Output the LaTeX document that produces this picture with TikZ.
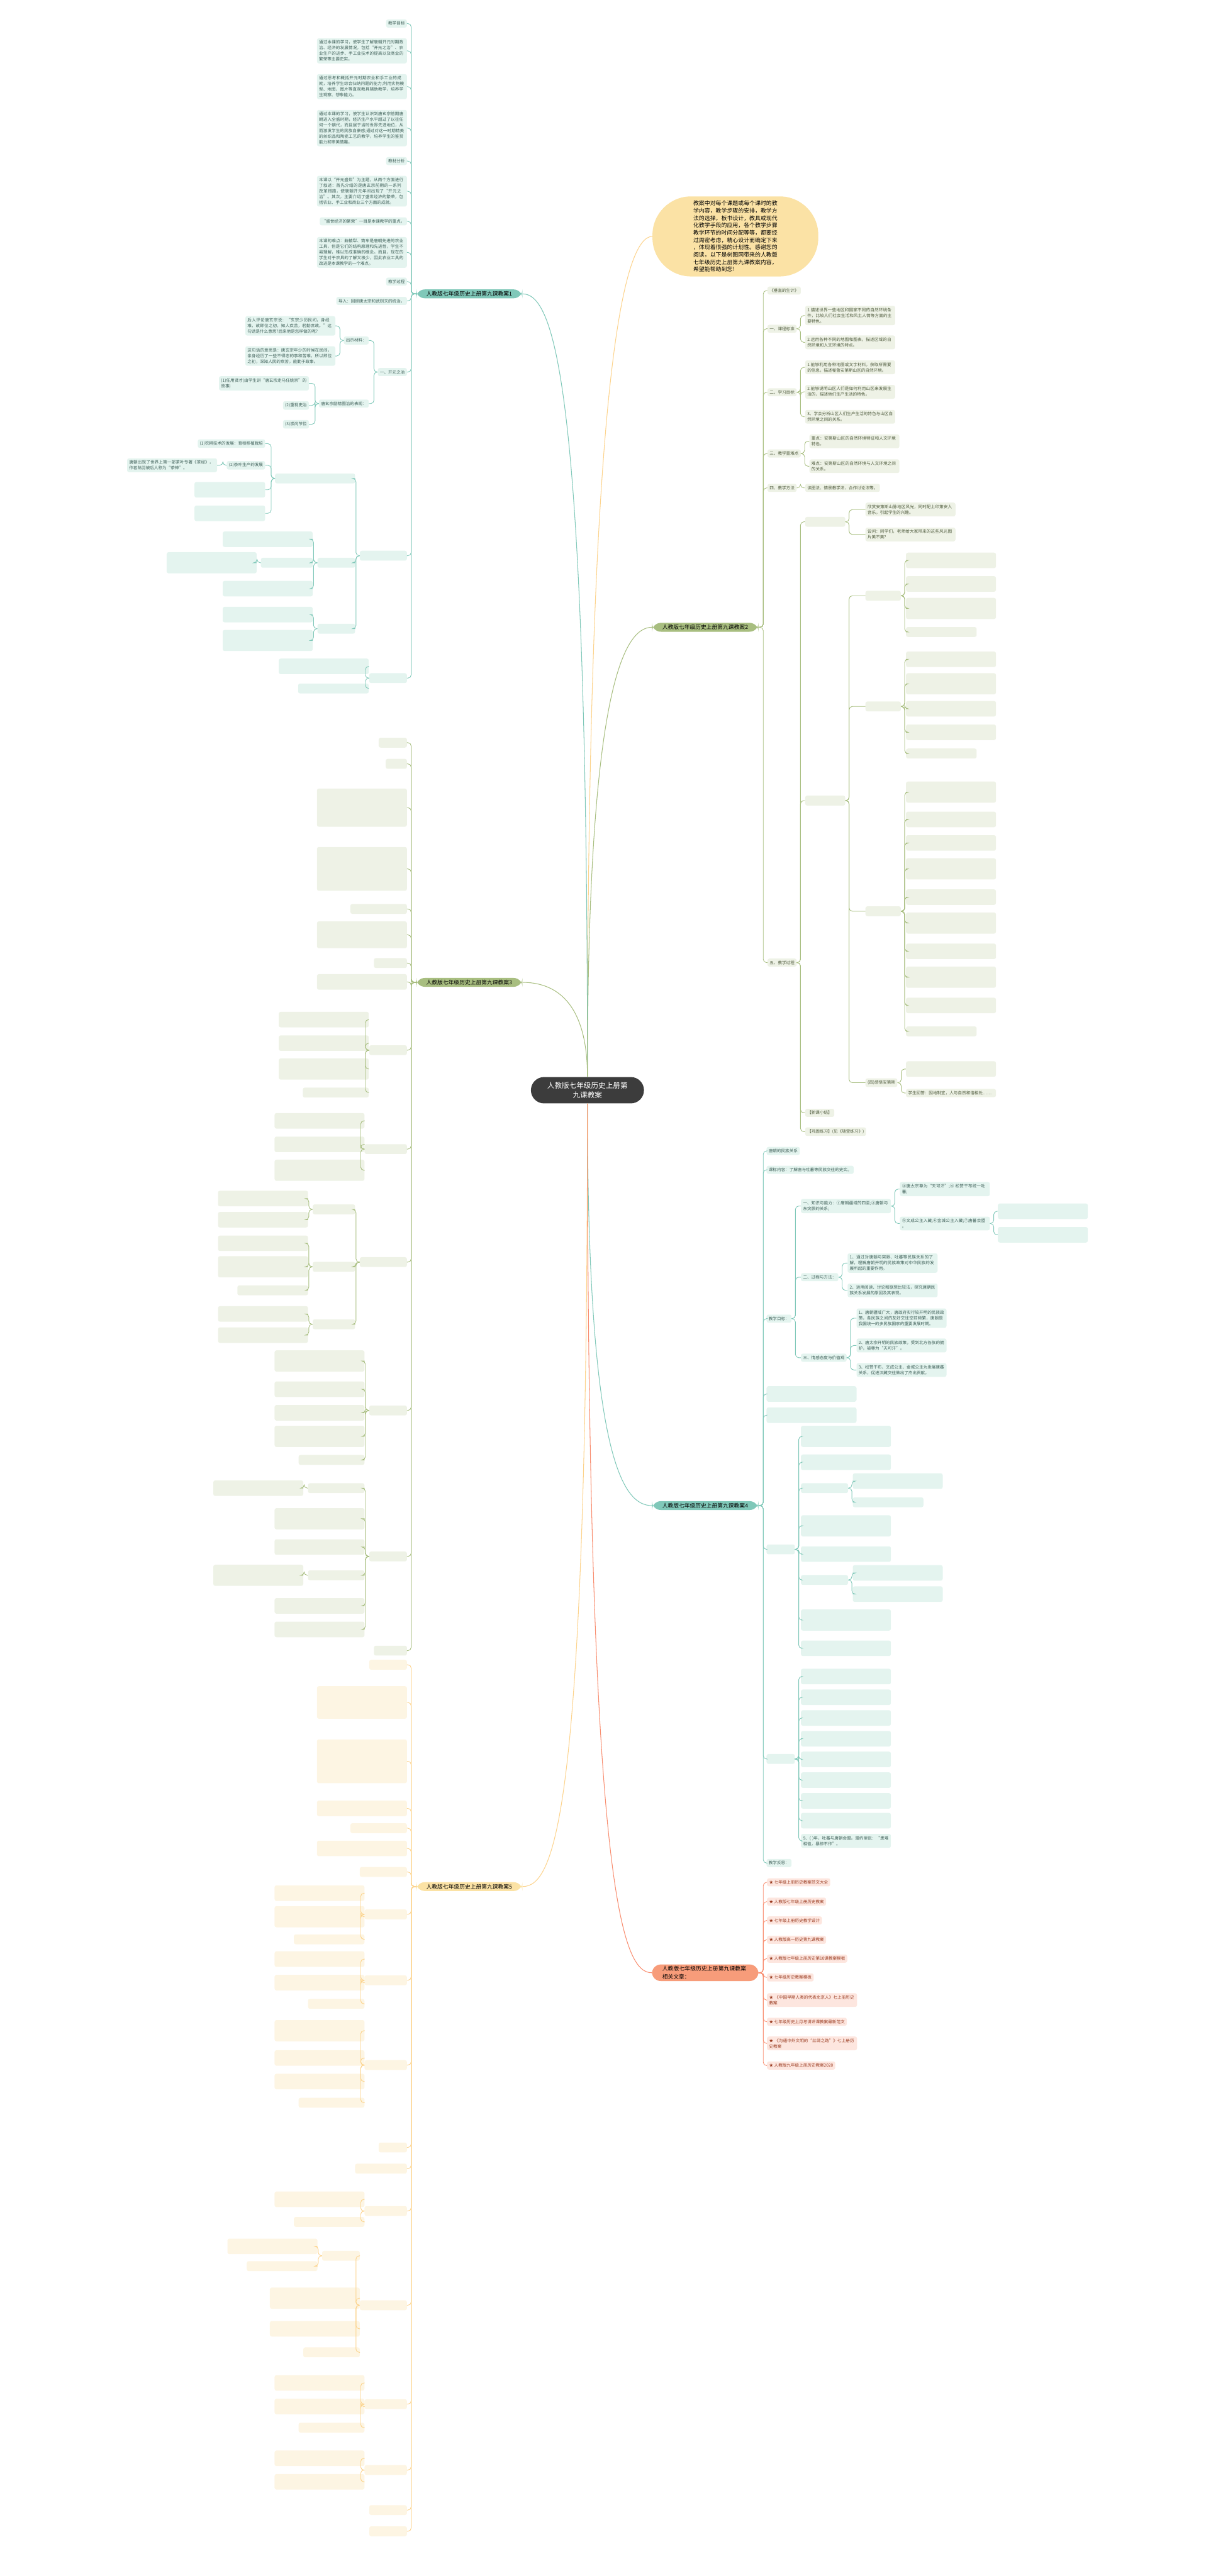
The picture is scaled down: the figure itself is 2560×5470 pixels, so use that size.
\documentclass[tikz,border=0pt]{standalone}
\usepackage{fontspec}
\setmainfont{Noto Sans CJK SC}
\XeTeXlinebreaklocale "zh"
\XeTeXlinebreakskip=0pt plus 1pt
\definecolor{ctrfill}{HTML}{3C3C3C}
\definecolor{tealM}{HTML}{80C8B9}
\definecolor{tealL}{HTML}{E4F4EF}
\definecolor{tealT}{HTML}{3E5F58}
\definecolor{greenM}{HTML}{A8BE80}
\definecolor{greenL}{HTML}{EEF2E6}
\definecolor{greenT}{HTML}{4E5A3C}
\definecolor{yelM}{HTML}{FBE2A5}
\definecolor{yelL}{HTML}{FDF5E3}
\definecolor{yelT}{HTML}{5E4E26}
\definecolor{oraM}{HTML}{F79C7A}
\definecolor{oraL}{HTML}{FDE6DF}
\definecolor{oraT}{HTML}{9A3B20}
\begin{document}
\begin{tikzpicture}[x=1pt,y=-1pt,
  ctrnode/.style={fill=ctrfill,text=white,rounded corners=28,minimum width=240,minimum height=56,
    align=center,font=\fontsize{15.5}{20}\selectfont},
  note/.style={fill=yelM,rounded corners=82,minimum width=352,minimum height=170,align=left,
    font=\fontsize{11.9}{15.6}\selectfont},
  topic/.style={rounded corners=19,text width=182,inner xsep=22,inner ysep=4,align=left,
    font=\fontsize{11.7}{16.5}\selectfont},
  leaf/.style={rounded corners=4,inner sep=4.5,align=left,font=\fontsize{8.8}{12}\selectfont},
  wide/.style={text width=182},
  lT/.style={leaf,fill=tealL,text=tealT},
  lG/.style={leaf,fill=greenL,text=greenT},
  lY/.style={leaf,fill=yelL,text=yelT},
  lO/.style={leaf,fill=oraL,text=oraT},
  mainT/.style={draw=tealM,line width=1.4},
  mainG/.style={draw=greenM,line width=1.4},
  mainY/.style={draw=yelM!85!orange,line width=1.4},
  mainO/.style={draw=oraM!90!red,line width=1.4},
  cT/.style={draw=tealM,line width=1.2,rounded corners=7},
  cG/.style={draw=greenM,line width=1.2,rounded corners=7},
  cY/.style={draw=yelM!85!orange,line width=1.2,rounded corners=7},
  cO/.style={draw=oraM!90!red,line width=1.2,rounded corners=7}]
\useasboundingbox (0,0) rectangle (2560,5470);

% centre and main topics
\node[ctrnode] (ctr) at (1247,2315) {人教版七年级历史上册第\\九课教案};
\node[note] (intro) at (1561,502) {教案中对每个课题或每个课时的教\\学内容，教学步骤的安排，教学方\\法的选择，板书设计，教具或现代\\化教学手段的应用，各个教学步骤\\教学环节的时间分配等等，都要经\\过周密考虑，精心设计而确定下来\\，体现着很强的计划性。感谢您的\\阅读，以下是树图网带来的人教版\\七年级历史上册第九课教案内容，\\希望能帮助到您！};
\node[topic,fill=tealM] (b1) at (996,624) {人教版七年级历史上册第九课教案1};
\node[topic,fill=greenM] (b2) at (1497,1332) {人教版七年级历史上册第九课教案2};
\node[topic,fill=greenM] (b3) at (996,2086) {人教版七年级历史上册第九课教案3};
\node[topic,fill=tealM] (b4) at (1497,3197) {人教版七年级历史上册第九课教案4};
\node[topic,fill=yelM] (b5) at (996,4006) {人教版七年级历史上册第九课教案5};
\node[topic,fill=oraM] (b6) at (1497,4189) {人教版七年级历史上册第九课教案相关文章：};

\draw[mainY] (ctr.north) .. controls +(0,-1500) and +(-60,0) .. (intro.west);
\draw[mainT] (ctr.north) .. controls +(0,-1450) and +(70,0) .. (b1.east);
\draw[mainG] (ctr.north) .. controls +(0,-820) and +(-60,0) .. (b2.west);
\draw[mainG] (ctr.north) .. controls +(0,-170) and +(60,0) .. (b3.east);
\draw[mainT] (ctr.south) .. controls +(0,760) and +(-60,0) .. (b4.west);
\draw[mainY] (ctr.south) .. controls +(0,1500) and +(70,0) .. (b5.east);
\draw[mainO] (ctr.south) .. controls +(0,1700) and +(-60,0) .. (b6.west);

% topic 1
\node[lT,anchor=east] (k1) at (864,50) {教学目标};
\node[lT,anchor=east,wide] (k2) at (864,108) {通过本课的学习，使学生了解唐朝开元时期政治、经济的发展情况，包括“开元之治”、农业生产的进步、手工业技术的提高以及商业的繁荣等主要史实。};
\node[lT,anchor=east,wide] (k3) at (864,184) {通过思考和概括开元时期农业和手工业的成就，培养学生综合归纳问题的能力;利用实物模型、地图、图片等直观教具辅助教学，培养学生观察、想象能力。};
\node[lT,anchor=east,wide] (k4) at (864,272) {通过本课的学习，使学生认识到唐玄宗前期唐朝进入全盛时期，经济生产水平超过了以往任何一个朝代，而且居于当时世界先进地位，从而激发学生的民族自豪感;通过对这一时期精美的丝织品和陶瓷工艺的教学，培养学生的鉴赏能力和审美情趣。};
\node[lT,anchor=east] (k5) at (864,342) {教材分析};
\node[lT,anchor=east,wide] (k6) at (864,406) {本课以“开元盛世”为主题，从两个方面进行了叙述：首先介绍的是唐玄宗前期的一系列改革措施，使唐朝开元年间出现了“开元之治”。其次，主要介绍了盛世经济的繁荣，包括农业、手工业和商业三个方面的成就。};
\node[lT,anchor=east] (k7) at (864,470) {“盛世经济的繁荣”一目是本课教学的重点。};
\node[lT,anchor=east,wide] (k8) at (864,536) {本课的难点：曲辕犁、筒车是唐朝先进的农业工具，但是它们的结构原理和先进性，学生不易理解，难以形成准确的概念。而且，现在的学生对于农具的了解又极少，因此农业工具的改进是本课教学的一个难点。};
\node[lT,anchor=east] (k9) at (864,598) {教学过程};
\node[lT,anchor=east] (k10) at (864,639) {导入：回顾唐太宗和武则天的统治。};
\node[lT,anchor=east] (k11) at (864,790) {一、开元之治};
\node[lT,anchor=east] (k111) at (783,723) {出示材料：};
\node[lT,anchor=east,wide] (k1111) at (712,692) {后人评论唐玄宗说：“玄宗少历民间，身经难，故即位之初，知人疾苦，躬勤庶政。”这句话是什么意思?后来他是怎样做的呢?};
\node[lT,anchor=east,wide] (k1112) at (712,756) {这句话的意思是：唐玄宗年少的时候在民间，亲身经历了一些不得志的事和苦难，所以即位之初，深知人民的疾苦，能勤于政事。};
\node[lT,anchor=east] (k112) at (783,857) {唐玄宗励精图治的表现：};
\node[lT,anchor=east,wide] (k1121) at (656,814) {(1)任用贤才(由学生讲“唐玄宗走马任姚崇”的故事)};
\node[lT,anchor=east] (k1122) at (656,861) {(2)重视吏治};
\node[lT,anchor=east] (k1123) at (656,901) {(3)崇尚节俭};
\node[lT,anchor=east] (kA1) at (563,942) {(1)农耕技术的发展：育秧移植栽培};
\node[lT,anchor=east] (kA2) at (563,988) {(2)茶叶生产的发展};
\node[lT,anchor=east,wide] (kA21) at (461,988) {唐朝出现了世界上第一部茶叶专著《茶经》，作者陆羽被后人称为“茶神”。};
% boxes whose text is too small to read
\foreach \n/\x/\y/\w/\h in {A1/864/1180/100/21,A2/864/1440/80/21,A11/754/1016/170/21,A12/754/1195/80/21,
  A13/754/1335/80/21,A113/563/1040/150/33,A114/563/1090/150/33,A121/664/1145/191/33,A122/664/1195/110/21,
  A1221/545/1195/191/45,A123/664/1250/191/33,A131/664/1305/191/33,A132/664/1360/191/45,A21/783/1415/191/33,
  A22/783/1462/150/21}
  \node[lT,anchor=east,minimum width=\w,minimum height=\h] (\n) at (\x,\y) {};

\foreach \c in {k1,k2,k3,k4,k5,k6,k7,k8,k9,k10,k11,A1,A2}
  \draw[cT] (b1.west) -- ++(-10,0) |- (\c.east);
\foreach \p/\c in {k11/k111,k11/k112,k111/k1111,k111/k1112,k112/k1121,k112/k1122,k112/k1123,
  A1/A11,A1/A12,A1/A13,A11/kA1,A11/kA2,A11/A113,A11/A114,kA2/kA21,A12/A121,A12/A122,A12/A123,
  A122/A1221,A13/A131,A13/A132,A2/A21,A2/A22}
  \draw[cT] (\p.west) -- ++(-8,0) |- (\c.east);

% topic 2
\node[lG,anchor=west] (g1) at (1629,617) {《垂直的生计》};
\node[lG,anchor=west] (g2) at (1629,698) {一、课程标准};
\node[lG,anchor=west,wide] (g21) at (1709,670) {1.描述世界一些地区和国家不同的自然环境条件，比较人们社会生活和风土人情等方面的主要特色。};
\node[lG,anchor=west,wide] (g22) at (1709,727) {2.运用各种不同的地图和图表，描述区域的自然环境和人文环境的特点。};
\node[lG,anchor=west] (g3) at (1629,833) {二、学习目标};
\node[lG,anchor=west,wide] (g31) at (1709,780) {1.能够利用各种地图或文字材料，获取所需要的信息，描述秘鲁安第斯山区的自然环境。};
\node[lG,anchor=west,wide] (g32) at (1709,832) {2.能够说明山区人们是如何利用山区来发展生活的，描述他们生产生活的特色。};
\node[lG,anchor=west,wide] (g33) at (1709,885) {3、学会分析山区人们生产生活的特色与山区自然环境之间的关系。};
\node[lG,anchor=west] (g4) at (1629,963) {三、教学重难点};
\node[lG,anchor=west,wide] (g41) at (1718,937) {重点：安第斯山区的自然环境特征和人文环境特色。};
\node[lG,anchor=west,wide] (g42) at (1718,990) {难点：安第斯山区的自然环境与人文环境之间的关系。};
\node[lG,anchor=west] (g5) at (1629,1036) {四、教学方法};
\node[lG,anchor=west] (g51) at (1709,1036) {读图法、情景教学法、合作讨论法等。};
\node[lG,anchor=west] (g6) at (1629,2044) {五、教学过程};
\node[lG,anchor=west,wide] (g6a1) at (1837,1082) {欣赏安第斯山脉地区风光，同时配上印第安人音乐，引起学生的兴趣。};
\node[lG,anchor=west,wide] (g6a2) at (1837,1135) {设问：同学们，老师给大家带来的这些风光图片美不美?};
\node[lG,anchor=west] (g6s) at (1709,2363) {【新课小结】};
\node[lG,anchor=west] (g6p) at (1709,2403) {【巩固练习】(见《随堂练习》)};
\node[lG,anchor=west] (g64) at (1837,2299) {(四)感悟安第斯};
\node[lG,anchor=west,wide] (g641) at (1923,2321) {学生回答：因地制宜，人与自然和谐相处……};
\foreach \n/\x/\y/\w/\h in {g6a/1709/1108/85/21,g6b/1709/1700/85/21,g6b1/1837/1265/75/21,g6b2/1837/1500/75/21,
  g6b3/1837/1935/75/21,g640/1923/2270/191/33,
  D11/1923/1190/191/33,D12/1923/1240/191/33,D13/1923/1292/191/45,D14/1923/1342/150/21,
  D21/1923/1400/191/33,D22/1923/1452/191/45,D23/1923/1505/191/33,D24/1923/1555/191/33,D25/1923/1600/150/21,
  D31/1923/1682/191/45,D32/1923/1740/191/33,D33/1923/1790/191/33,D34/1923/1845/191/45,D35/1923/1905/191/33,
  D36/1923/1960/191/45,D37/1923/2020/191/33,D38/1923/2075/191/45,D39/1923/2135/191/33,D310/1923/2190/150/21}
  \node[lG,anchor=west,minimum width=\w,minimum height=\h] (\n) at (\x,\y) {};

\foreach \c in {g1,g2,g3,g4,g5,g6}
  \draw[cG] (b2.east) -- ++(10,0) |- (\c.west);
\foreach \p/\c in {g2/g21,g2/g22,g3/g31,g3/g32,g3/g33,g4/g41,g4/g42,g5/g51,g6/g6a,g6/g6b,g6/g6s,g6/g6p,
  g6a/g6a1,g6a/g6a2,g6b/g6b1,g6b/g6b2,g6b/g6b3,g6b/g64,g64/g640,g64/g641,
  g6b1/D11,g6b1/D12,g6b1/D13,g6b1/D14,g6b2/D21,g6b2/D22,g6b2/D23,g6b2/D24,g6b2/D25,
  g6b3/D31,g6b3/D32,g6b3/D33,g6b3/D34,g6b3/D35,g6b3/D36,g6b3/D37,g6b3/D38,g6b3/D39,g6b3/D310}
  \draw[cG] (\p.east) -- ++(8,0) |- (\c.west);

% topic 3
\foreach \n/\x/\y/\w/\h in {B1/864/1577/60/21,B2/864/1622/45/21,B3/864/1715/191/81,B4/864/1845/191/93,
  B5/864/1930/120/21,B6/864/1985/191/57,B7/864/2045/70/21,B8/864/2085/191/33,
  B9/864/2230/80/21,B91/783/2165/191/33,B92/783/2215/191/33,B93/783/2270/191/45,B94/783/2320/140/21,
  B10/864/2440/90/21,B101/774/2380/191/33,B102/774/2430/191/33,B103/774/2485/191/45,
  B11/864/2680/100/21,B111/754/2568/90/21,B1111/654/2545/191/33,B1112/654/2590/191/33,
  B112/754/2690/90/21,B1121/654/2640/191/33,B1122/654/2690/191/45,B1123/654/2740/150/21,
  B113/754/2812/90/21,B1131/654/2790/191/33,B1132/654/2835/191/33,
  B12/864/2995/80/21,B121/774/2890/191/45,B122/774/2950/191/33,B123/774/3000/191/33,B124/774/3050/191/45,
  B125/774/3100/140/21,
  B13/864/3305/80/21,B131/774/3160/120/21,B1311/644/3160/191/33,B132/774/3225/191/45,B133/774/3285/191/33,
  B134/774/3345/120/21,B1341/644/3345/191/45,B135/774/3410/191/33,B136/774/3460/191/33,
  B14/864/3505/70/21}
  \node[lG,anchor=east,minimum width=\w,minimum height=\h] (\n) at (\x,\y) {};
\foreach \c in {B1,B2,B3,B4,B5,B6,B7,B8,B9,B10,B11,B12,B13,B14}
  \draw[cG] (b3.west) -- ++(-10,0) |- (\c.east);
\foreach \p/\c in {B9/B91,B9/B92,B9/B93,B9/B94,B10/B101,B10/B102,B10/B103,B11/B111,B11/B112,B11/B113,
  B111/B1111,B111/B1112,B112/B1121,B112/B1122,B112/B1123,B113/B1131,B113/B1132,
  B12/B121,B12/B122,B12/B123,B12/B124,B12/B125,B13/B131,B13/B132,B13/B133,B13/B134,B13/B135,B13/B136,
  B131/B1311,B134/B1341}
  \draw[cG] (\p.west) -- ++(-8,0) |- (\c.east);

% topic 4
\node[lT,anchor=west] (t1) at (1627,2444) {唐朝的民族关系};
\node[lT,anchor=west] (t2) at (1627,2484) {课标内容：了解唐与吐蕃等民族交往的史实。};
\node[lT,anchor=west] (t3) at (1627,2800) {教学目标：};
\node[lT,anchor=west,wide] (t31) at (1700,2561) {一、知识与能力：①唐朝疆域的四至;②唐朝与东突厥的关系;};
\node[lT,anchor=west,wide] (t311) at (1910,2525) {③唐太宗尊为“天可汗”;④ 松赞干布统一吐蕃;};
\node[lT,anchor=west,wide] (t312) at (1910,2598) {⑤文成公主入藏;⑥金城公主入藏;⑦唐蕃会盟 。};
\node[lT,anchor=west] (t32) at (1700,2712) {二、过程与方法：};
\node[lT,anchor=west,wide] (t321) at (1799,2682) {1、通过对唐朝与突厥、吐蕃等民族关系的了解，理解唐朝开明的民族政策对中华民族的发展所起的重要作用。};
\node[lT,anchor=west,wide] (t322) at (1799,2740) {2、运用阅读、讨论和联想比较法，探究唐朝民族关系发展的原因及其表现。};
\node[lT,anchor=west] (t33) at (1700,2883) {三、情感态度与价值观};
\node[lT,anchor=west,wide] (t331) at (1818,2799) {1、唐朝疆域广大，唐政府实行较开明的民族政策，各民族之间的友好交往空前频繁，唐朝是我国统一的多民族国家的重要发展时期。};
\node[lT,anchor=west,wide] (t332) at (1818,2857) {2、唐太宗开明的民族政策，受到北方各族的拥护，被尊为“天可汗”。};
\node[lT,anchor=west,wide] (t333) at (1818,2909) {3、松赞干布、文成公主、金城公主为发展唐蕃关系，促进汉藏交往做出了杰出贡献。};
\node[lT,anchor=west,wide] (t9) at (1700,3909) {9、( )年，吐蕃与唐朝会盟。盟约里说：“患难相恤，暴掠不作”。};
\node[lT,anchor=west] (tz) at (1627,3956) {教学反思：};
\foreach \n/\x/\y/\w/\h in {t3121/2118/2572/191/33,t3122/2118/2622/191/33,
  E1/1627/2960/191/33,E2/1627/3005/191/33,E3/1627/3290/60/21,E4/1627/3735/60/21,
  E31/1700/3050/191/45,E32/1700/3105/191/33,E33/1700/3160/100/21,E331/1810/3145/191/33,E332/1810/3190/150/21,
  E34/1700/3240/191/45,E35/1700/3300/191/33,E36/1700/3355/100/21,E361/1810/3340/191/33,E362/1810/3385/191/33,
  E37/1700/3440/191/45,E38/1700/3500/191/33,
  E41/1700/3560/191/33,E42/1700/3604/191/33,E43/1700/3648/191/33,E44/1700/3692/191/33,E45/1700/3736/191/33,
  E46/1700/3780/191/33,E47/1700/3824/191/33,E48/1700/3866/191/33}
  \node[lT,anchor=west,minimum width=\w,minimum height=\h] (\n) at (\x,\y) {};

\foreach \c in {t1,t2,t3,E1,E2,E3,E4,tz}
  \draw[cT] (b4.east) -- ++(10,0) |- (\c.west);
\foreach \p/\c in {t3/t31,t3/t32,t3/t33,t31/t311,t31/t312,t32/t321,t32/t322,t33/t331,t33/t332,t33/t333,
  t312/t3121,t312/t3122,E3/E31,E3/E32,E3/E33,E3/E34,E3/E35,E3/E36,E3/E37,E3/E38,E33/E331,E33/E332,
  E36/E361,E36/E362,E4/E41,E4/E42,E4/E43,E4/E44,E4/E45,E4/E46,E4/E47,E4/E48,E4/t9}
  \draw[cT] (\p.east) -- ++(8,0) |- (\c.west);

% topic 5
\foreach \n/\x/\y/\w/\h in {C1/864/3535/80/21,C2/864/3615/191/69,C3/864/3740/191/93,C4/864/3840/191/33,
  C5/864/3882/120/21,C6/864/3925/191/33,C7/864/3975/100/21,
  C8/864/4065/90/21,C81/774/4020/191/33,C82/774/4070/191/45,C83/774/4118/150/21,
  C9/864/4205/90/21,C91/774/4160/191/33,C92/774/4210/191/33,C93/774/4255/120/21,
  C10/864/4385/90/21,C101/774/4312/191/45,C102/774/4370/191/33,C103/774/4420/191/33,C104/774/4465/140/21,
  C11/864/4560/60/21,C12/864/4605/110/21,
  C13/864/4695/90/21,C131/774/4670/191/33,C132/774/4718/150/21,
  C14/864/4895/100/21,C141/764/4790/80/21,C1411/674/4770/191/33,C1412/674/4812/150/21,C142/764/4880/191/45,
  C143/764/4945/191/33,C144/764/4995/120/21,
  C15/864/5105/90/21,C151/774/5060/191/33,C152/774/5110/191/33,C153/774/5155/140/21,
  C16/864/5245/90/21,C161/774/5220/191/33,C162/774/5270/191/33,
  C17/864/5330/80/21,C18/864/5375/80/21}
  \node[lY,anchor=east,minimum width=\w,minimum height=\h] (\n) at (\x,\y) {};
\foreach \c in {C1,C2,C3,C4,C5,C6,C7,C8,C9,C10,C11,C12,C13,C14,C15,C16,C17,C18}
  \draw[cY] (b5.west) -- ++(-10,0) |- (\c.east);
\foreach \p/\c in {C8/C81,C8/C82,C8/C83,C9/C91,C9/C92,C9/C93,C10/C101,C10/C102,C10/C103,C10/C104,
  C13/C131,C13/C132,C14/C141,C14/C142,C14/C143,C14/C144,C141/C1411,C141/C1412,
  C15/C151,C15/C152,C15/C153,C16/C161,C16/C162}
  \draw[cY] (\p.west) -- ++(-8,0) |- (\c.east);

% topic 6
\node[lO,anchor=west] (o1) at (1628,3997) {★ 七年级上册历史教案范文大全};
\node[lO,anchor=west] (o2) at (1628,4038) {★ 人教版七年级上册历史教案};
\node[lO,anchor=west] (o3) at (1628,4078) {★ 七年级上册历史教学设计};
\node[lO,anchor=west] (o4) at (1628,4119) {★ 人教版高一历史第九课教案};
\node[lO,anchor=west] (o5) at (1628,4159) {★ 人教版七年级上册历史第10课教案模板};
\node[lO,anchor=west] (o6) at (1628,4199) {★ 七年级历史教案模板};
\node[lO,anchor=west,wide] (o7) at (1628,4247) {★ 《中国早期人类的代表北京人》七上册历史教案};
\node[lO,anchor=west] (o8) at (1628,4293) {★ 七年级历史上月考讲评课教案最新范文};
\node[lO,anchor=west,wide] (o9) at (1628,4339) {★ 《沟通中外文明的“丝绸之路”》七上册历史教案};
\node[lO,anchor=west] (o10) at (1628,4386) {★ 人教版九年级上册历史教案2020};
\foreach \c in {o1,o2,o3,o4,o5,o6,o7,o8,o9,o10}
  \draw[cO] (b6.east) -- ++(10,0) |- (\c.west);
\end{tikzpicture}
\end{document}
